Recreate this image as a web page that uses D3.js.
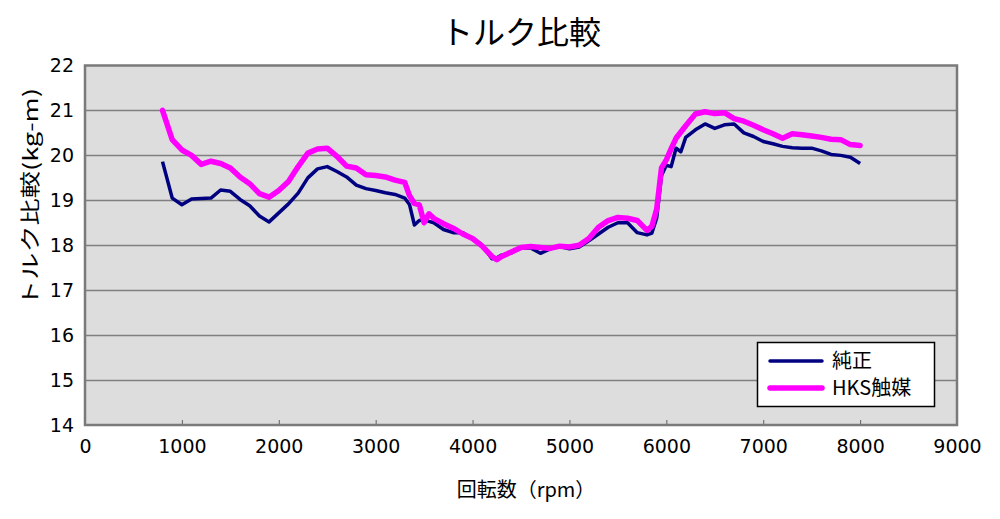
<!DOCTYPE html>
<html><head><meta charset="utf-8">
<script src="https://cdn.jsdelivr.net/npm/d3@7"></script>
<style>body{margin:0;background:#fff}svg{display:block}</style>
</head><body>
<script>
const title = "トルク比較";
const xTitle = "回転数（rpm）";
const yTitle = "トルク比較(kg-m)";
const seriesNames = ["純正", "HKS触媒"];
const xTicks = [0,1000,2000,3000,4000,5000,6000,7000,8000,9000];
const yTicks = [14,15,16,17,18,19,20,21,22];
const rpm = [800,900,1000,1100,1200,1300,1400,1500,1600,1700,1800,1900,2000,2100,2200,2300,2400,2500,2600,2700,2800,2900,3000,3100,3200,3300,3350,3400,3450,3500,3550,3600,3700,3800,3900,4000,4100,4200,4250,4300,4400,4500,4600,4700,4800,4900,5000,5100,5200,5300,5400,5500,5600,5700,5800,5850,5900,5950,6000,6050,6100,6150,6200,6300,6400,6500,6600,6700,6800,6900,7000,7100,7200,7300,7400,7500,7600,7700,7800,7900,8000];
const stock = [19.86,19.05,18.9,19.03,19.04,19.05,19.23,19.2,19.02,18.88,18.65,18.52,18.72,18.92,19.16,19.5,19.7,19.75,19.64,19.52,19.34,19.26,19.22,19.17,19.13,19.05,18.9,18.45,18.55,18.57,18.53,18.5,18.35,18.28,18.28,18.15,18.0,17.7,17.72,17.78,17.83,17.94,17.94,17.82,17.92,17.97,17.92,17.96,18.1,18.25,18.4,18.5,18.5,18.28,18.23,18.27,18.6,19.55,19.78,19.75,20.16,20.08,20.4,20.57,20.7,20.6,20.68,20.7,20.5,20.42,20.31,20.26,20.2,20.17,20.16,20.16,20.1,20.02,20.0,19.96,19.82];
const hks = [21.0,20.35,20.12,20.0,19.8,19.87,19.82,19.72,19.52,19.37,19.15,19.07,19.22,19.42,19.75,20.05,20.14,20.16,19.98,19.76,19.72,19.57,19.55,19.52,19.45,19.4,19.1,18.93,18.9,18.5,18.7,18.6,18.48,18.38,18.25,18.15,17.98,17.75,17.68,17.75,17.85,17.95,17.97,17.95,17.93,17.98,17.96,18.0,18.15,18.4,18.55,18.62,18.6,18.55,18.33,18.42,18.8,19.72,19.9,20.15,20.38,20.52,20.66,20.92,20.97,20.93,20.95,20.82,20.76,20.67,20.57,20.48,20.38,20.48,20.46,20.43,20.4,20.36,20.35,20.24,20.22];

const W = 1000, H = 519;
const m = {l:85, r:957, t:65.5, b:425};
const svg = d3.select("body").append("svg").attr("width",W).attr("height",H);
const x = d3.scaleLinear().domain([0,9000]).range([m.l,m.r]);
const y = d3.scaleLinear().domain([14,22]).range([m.b,m.t]);
const num = "'DejaVu Sans', Verdana, sans-serif";
const jp = "'Noto Sans CJK JP', sans-serif";

svg.append("rect").attr("x",m.l).attr("y",m.t).attr("width",m.r-m.l).attr("height",m.b-m.t).attr("fill","#dddddd");

svg.append("g").selectAll("line").data(yTicks.slice(1,-1)).join("line")
  .attr("x1",m.l).attr("x2",m.r).attr("y1",d=>Math.round(y(d))+0.5).attr("y2",d=>Math.round(y(d))+0.5)
  .attr("stroke","#808080").attr("stroke-width",1.3);

const xAxis = d3.axisBottom(x).tickValues(xTicks).tickSize(-5).tickPadding(11).tickFormat(d3.format("d"));
const gx = svg.append("g").attr("transform",`translate(0,${m.b})`).call(xAxis);
gx.select(".domain").remove();
gx.selectAll("line").attr("stroke","#606060");
gx.selectAll("text").attr("font-family",num).attr("font-size",19).attr("fill","#000").attr("dy","0.9em");

const yAxis = d3.axisLeft(y).tickValues(yTicks).tickSize(0).tickPadding(11);
const gy = svg.append("g").attr("transform",`translate(${m.l},0)`).call(yAxis);
gy.select(".domain").remove();
gy.selectAll("text").attr("font-family",num).attr("font-size",19).attr("fill","#000");

svg.append("rect").attr("x",m.l).attr("y",m.t).attr("width",m.r-m.l).attr("height",m.b-m.t)
  .attr("fill","none").attr("stroke","#7a7a7a").attr("stroke-width",2.5);

const line = d3.line().x((d,i)=>x(rpm[i])).y(d=>y(d));
svg.append("path").datum(stock).attr("d",line).attr("fill","none").attr("stroke","#000080").attr("stroke-width",3.5).attr("stroke-linejoin","round");
svg.append("path").datum(hks).attr("d",line).attr("fill","none").attr("stroke","#ff00ff").attr("stroke-width",5.5).attr("stroke-linejoin","round").attr("stroke-linecap","round");

svg.append("text").attr("x",521).attr("y",44).attr("text-anchor","middle").attr("font-family",jp).attr("font-size",32).attr("fill","#000").text(title);
svg.append("text").attr("x",526).attr("y",497).attr("text-anchor","middle").attr("font-family",jp).attr("font-size",20).attr("fill","#000").text(xTitle);
svg.append("text").attr("transform","translate(38,197.5) rotate(-90)").attr("text-anchor","middle")
  .attr("font-family",jp).attr("font-size",20).attr("fill","#000")
  .attr("textLength",219).attr("lengthAdjust","spacingAndGlyphs").text(yTitle);

const lg = svg.append("g");
lg.append("rect").attr("x",757.5).attr("y",342.5).attr("width",177).attr("height",64).attr("fill","#fff").attr("stroke","#000").attr("stroke-width",1.5);
const colors = ["#000080","#ff00ff"], widths=[3.5,5.5], ly=[361,388];
seriesNames.forEach((n,i)=>{
  lg.append("line").attr("x1",770).attr("x2",822).attr("y1",ly[i]).attr("y2",ly[i]).attr("stroke",colors[i]).attr("stroke-width",widths[i]).attr("stroke-linecap","round");
  lg.append("text").attr("x",832).attr("y",ly[i]+7).attr("font-family",jp).attr("font-size",20).attr("fill","#000").text(n);
});
</script>
</body></html>
